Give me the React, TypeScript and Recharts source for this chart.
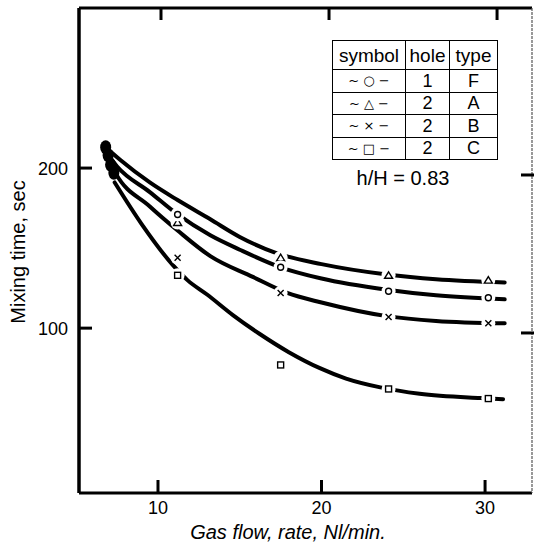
import { ComposedChart, Line, Scatter, XAxis, YAxis } from 'recharts';

// axis ticks
const flowTicks = [10, 20, 30];
const timeTicks = [100, 200];

// measured points (Nl/min, sec)
const markerFlow = [11.2, 17.5, 24.1, 30.2];
const timeF = [171, 138, 123, 119]; // circle, 1 hole, type F
const timeA = [166, 144, 133, 130]; // triangle, 2 holes, type A
const timeB = [144, 122, 107, 103]; // cross, 2 holes, type B
const timeC = [133, 77, 62, 56]; // square, 2 holes, type C

// first points at ~7 Nl/min, overprinted into one dark blob
const startFlow = [6.8, 6.95, 7.1, 7.3];
const startTime = [213, 208, 202, 197];

// hand drawn fitted curves
const curveFlowA = [6.8, 7.7, 9.5, 11.2, 13.2, 15, 17.2, 20, 24, 27, 31.2];
const curveTimeA = [213, 205, 191, 180, 168, 157, 147, 140, 133.5, 130.5, 128.5];
const curveFlowF = [6.9, 7.5, 9.5, 11.2, 13.2, 15, 17.5, 20, 24, 27, 31.2];
const curveTimeF = [209, 201, 185, 171, 158, 149, 138, 131, 124, 120.5, 118];
const curveFlowB = [7.1, 7.4, 9.5, 11.2, 13.2, 15.8, 17.9, 20, 24, 27, 31.2];
const curveTimeB = [203, 197, 176, 161, 145, 132, 122, 116, 107.5, 104.5, 103];
const curveFlowC = [7.35, 9, 10.9, 11.8, 13, 14.6, 16.2, 18, 19.9, 21.5, 23.6, 26, 29.7, 31.1];
const curveTimeC = [191, 165, 139.5, 130, 121, 108, 96.5, 85, 75, 68.5, 63, 59, 56.3, 55.6];

// legend table
const legendSymbols = ['~ ○ −', '~ △ −', '~ × −', '~ □ −'];
const legendHoles = ['1', '2', '2', '2'];
const legendTypes = ['F', 'A', 'B', 'C'];

const toPoints = (xs: number[], ys: number[]) => xs.map((flow, i) => ({ flow, time: ys[i] }));

const GAP = 10;
const FONT = '"Liberation Sans", Arial, Helvetica, sans-serif';

function LeftTick({ x, y, payload }: any) {
  const ax = x + GAP;
  return (
    <g>
      <line x1={ax} x2={ax + 13} y1={y} y2={y} stroke="#000" strokeWidth={3} />
      <text x={ax - 11} y={y} dy="0.36em" textAnchor="end" fontSize={18} fill="#000">{payload.value}</text>
    </g>
  );
}

function RightTick({ x, y }: any) {
  const ax = x - GAP;
  return <line x1={ax + 2} x2={ax - 11} y1={y} y2={y} stroke="#000" strokeWidth={3} />;
}

function BottomTick({ x, y, payload }: any) {
  const ay = y - GAP;
  return (
    <g>
      <line x1={x} x2={x} y1={ay} y2={ay - 13} stroke="#000" strokeWidth={3} />
      <text x={x} y={ay + 15} dy="0.36em" textAnchor="middle" fontSize={18} fill="#000">{payload.value}</text>
    </g>
  );
}

function TopTick({ x, y }: any) {
  const ay = y + GAP;
  return <line x1={x} x2={x} y1={ay} y2={ay + 12} stroke="#000" strokeWidth={3} />;
}

// white halo under each symbol cuts the curve, like the gaps in the original
const marker = (kind: string) => (p: any) => {
  const { cx, cy } = p;
  const s = { fill: '#fff', stroke: '#000', strokeWidth: 1.4 };
  return (
    <g>
      <circle cx={cx} cy={cy} r={7} fill="#fff" />
      {kind === 'circle' && <circle cx={cx} cy={cy} r={3} {...s} />}
      {kind === 'triangle' && <path d={`M${cx},${cy - 3.5} L${cx + 4},${cy + 3} L${cx - 4},${cy + 3} Z`} {...s} />}
      {kind === 'cross' && <path d={`M${cx - 3},${cy - 3} L${cx + 3},${cy + 3} M${cx + 3},${cy - 3} L${cx - 3},${cy + 3}`} {...s} />}
      {kind === 'square' && <rect x={cx - 3} y={cy - 3} width={6} height={6} {...s} />}
    </g>
  );
};

const blob = (p: any) => <ellipse cx={p.cx} cy={p.cy} rx={5.5} ry={7} fill="#000" />;

const curve = (id: string, xs: number[], ys: number[]) => (
  <Line
    key={id}
    data={toPoints(xs, ys)}
    dataKey="time"
    type="monotone"
    stroke="#000"
    strokeWidth={4}
    strokeLinecap="round"
    dot={false}
    activeDot={false}
    isAnimationActive={false}
  />
);

const cell = { border: '1.5px solid #000', textAlign: 'center' as const, padding: 0 };

export default function App() {
  return (
    <div style={{ position: 'absolute', left: 0, top: 0, width: 534, height: 545, background: '#fff', fontFamily: FONT, color: '#000' }}>
      <ComposedChart width={534} height={545} margin={{ top: 7, right: 1, bottom: 0, left: 0 }}>
        <XAxis
          dataKey="flow"
          type="number"
          domain={[5.17, 32.87]}
          allowDataOverflow
          ticks={flowTicks}
          height={52}
          tickSize={0}
          tickMargin={GAP}
          tickLine={false}
          axisLine={{ stroke: '#000', strokeWidth: 3 }}
          tick={<BottomTick />}
        />
        <XAxis
          xAxisId="top"
          orientation="top"
          dataKey="flow"
          type="number"
          domain={[5.12, 32.08]}
          allowDataOverflow
          ticks={flowTicks}
          height={1}
          tickSize={0}
          tickMargin={GAP}
          tickLine={false}
          axisLine={{ stroke: '#000', strokeWidth: 3 }}
          tick={<TopTick />}
        />
        <YAxis
          type="number"
          domain={[-3, 300]}
          allowDataOverflow
          ticks={timeTicks}
          width={79}
          tickSize={0}
          tickMargin={GAP}
          tickLine={false}
          axisLine={{ stroke: '#000', strokeWidth: 3.5 }}
          tick={<LeftTick />}
        />
        <YAxis
          yAxisId="right"
          orientation="right"
          type="number"
          domain={[-1.3, 305.7]}
          allowDataOverflow
          ticks={timeTicks}
          width={1}
          tickSize={0}
          tickMargin={GAP}
          tickLine={false}
          axisLine={{ stroke: '#555', strokeWidth: 1.2, strokeDasharray: '3 1' }}
          tick={<RightTick />}
        />
        {curve('A', curveFlowA, curveTimeA)}
        {curve('F', curveFlowF, curveTimeF)}
        {curve('B', curveFlowB, curveTimeB)}
        {curve('C', curveFlowC, curveTimeC)}
        <Scatter data={toPoints(startFlow, startTime)} dataKey="time" shape={blob} isAnimationActive={false} />
        <Scatter data={toPoints(markerFlow, timeA)} dataKey="time" shape={marker('triangle')} isAnimationActive={false} />
        <Scatter data={toPoints(markerFlow, timeF)} dataKey="time" shape={marker('circle')} isAnimationActive={false} />
        <Scatter data={toPoints(markerFlow, timeB)} dataKey="time" shape={marker('cross')} isAnimationActive={false} />
        <Scatter data={toPoints(markerFlow, timeC)} dataKey="time" shape={marker('square')} isAnimationActive={false} />
      </ComposedChart>

      <div style={{ position: 'absolute', left: 18, top: 252, transform: 'translate(-50%, -50%) rotate(-90deg)', fontSize: 20, lineHeight: 1, whiteSpace: 'nowrap' }}>
        Mixing time, sec
      </div>
      <div style={{ position: 'absolute', left: 288, top: 532, transform: 'translate(-50%, -50%)', fontSize: 20, lineHeight: 1, fontStyle: 'italic', whiteSpace: 'nowrap' }}>
        Gas flow, rate, Nl/min.
      </div>
      <div style={{ position: 'absolute', left: 403, top: 178, transform: 'translate(-50%, -50%)', fontSize: 20, lineHeight: 1, whiteSpace: 'nowrap' }}>
        h/H = 0.83
      </div>

      <table style={{ position: 'absolute', left: 332, top: 40, width: 165, height: 119, borderCollapse: 'collapse', tableLayout: 'fixed', background: '#fff', fontFamily: FONT }}>
        <colgroup>
          <col style={{ width: 73 }} />
          <col style={{ width: 44 }} />
          <col style={{ width: 48 }} />
        </colgroup>
        <tbody>
          <tr style={{ height: 29, fontSize: 19, lineHeight: 1 }}>
            <td style={cell}>symbol</td>
            <td style={cell}>hole</td>
            <td style={cell}>type</td>
          </tr>
          {legendSymbols.map((sym, i) => (
            <tr key={sym} style={{ height: 22.5, fontSize: 18, lineHeight: 1 }}>
              <td style={{ ...cell, fontSize: 13, fontFamily: '"DejaVu Sans", sans-serif' }}>{sym}</td>
              <td style={cell}>{legendHoles[i]}</td>
              <td style={cell}>{legendTypes[i]}</td>
            </tr>
          ))}
        </tbody>
      </table>
    </div>
  );
}
